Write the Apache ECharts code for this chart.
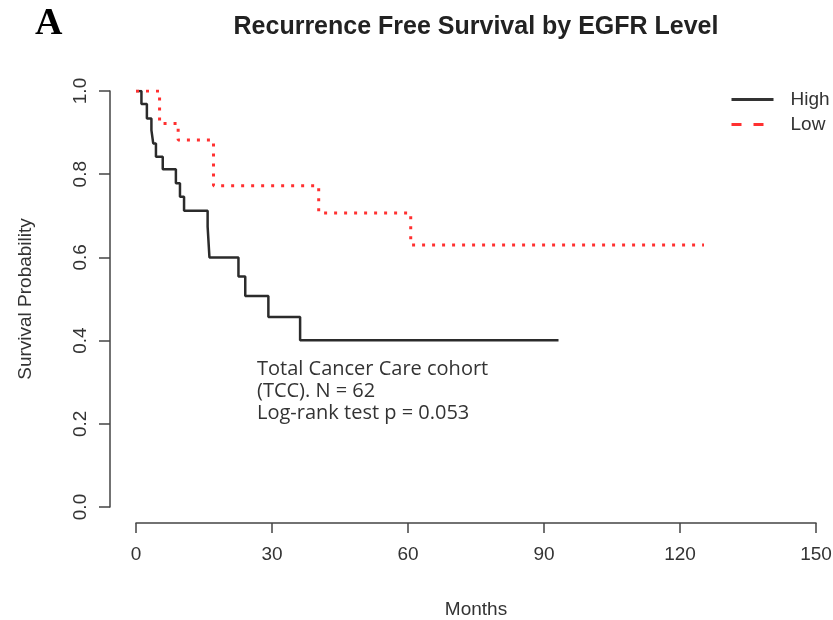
<!DOCTYPE html>
<html>
<head>
<meta charset="utf-8">
<script src="https://cdn.jsdelivr.net/npm/echarts@6/dist/echarts.min.js"></script>
<style>html,body{margin:0;padding:0;background:#fff;}#chart{width:833px;height:620px;}</style>
</head>
<body>
<div id="chart"></div>
<script>
// Kaplan-Meier step data (months, survival probability after event)
var highMonths = [0, 1.2, 2.4, 3.4, 3.8, 4.4, 5.9, 8.8, 9.7, 10.6, 15.8, 16.2, 22.6, 24.1, 29.2, 36.2, 93.2];
var highSurv   = [1.0, 0.969, 0.934, 0.906, 0.874, 0.842, 0.812, 0.778, 0.746, 0.712, 0.674, 0.600, 0.554, 0.507, 0.457, 0.401, 0.401];
var lowMonths  = [0, 5.2, 9.3, 17.1, 40.3, 60.6, 125.3];
var lowSurv    = [1.0, 0.922, 0.882, 0.772, 0.707, 0.630, 0.630];
var seriesNames = ['High', 'Low'];
var xTicks = [0, 30, 60, 90, 120, 150];
var yTicks = [0.0, 0.2, 0.4, 0.6, 0.8, 1.0];
var titleText = 'Recurrence Free Survival by EGFR Level';
var panelLabel = 'A';
var noteLines = ['Total Cancer Care cohort', '(TCC). N = 62', 'Log-rank test p = 0.053'];

function pairs(xs, ys) { return xs.map(function (x, i) { return [x, ys[i]]; }); }

var axisColor = '#444';
var textColor = '#333';
var hiddenSymbol = {color: 'rgba(0,0,0,0)', borderColor: 'rgba(0,0,0,0)', borderWidth: 0, opacity: 0};
var chart = echarts.init(document.getElementById('chart'), null, {renderer: 'canvas'});
chart.setOption({
  animation: false,
  backgroundColor: '#fff',
  title: {
    text: titleText,
    left: 471, top: 10, textAlign: 'center',
    textStyle: {fontFamily: 'Liberation Sans', fontWeight: 'bold', fontSize: 25, color: '#222'}
  },
  legend: {
    orient: 'vertical', left: 730, top: 90, padding: 0, itemGap: 6, itemWidth: 42, itemHeight: 18,
    textStyle: {fontFamily: 'Liberation Sans', fontSize: 19, color: textColor, padding: [0, 0, 0, 12]},
    data: [
      {name: 'High', itemStyle: hiddenSymbol, lineStyle: {color: '#333', width: 3, type: 'solid'}},
      {name: 'Low', itemStyle: hiddenSymbol, lineStyle: {color: '#ff3030', width: 3, type: [10, 12]}}
    ]
  },
  grid: {left: 136, right: 17, top: 91, bottom: 113, containLabel: false, outerBoundsMode: 'none'},
  xAxis: {
    type: 'value', min: xTicks[0], max: xTicks[xTicks.length - 1], interval: 30,
    offset: 16,
    name: 'Months', nameLocation: 'middle', nameGap: 77,
    nameTextStyle: {fontFamily: 'Liberation Sans', fontSize: 19, color: textColor},
    axisLine: {show: true, onZero: false, lineStyle: {color: axisColor, width: 1.5}},
    axisTick: {show: true, length: 10, lineStyle: {color: axisColor, width: 1.5}},
    axisLabel: {fontFamily: 'Liberation Sans', fontSize: 19, color: textColor, margin: 22},
    splitLine: {show: false}
  },
  yAxis: {
    type: 'value', min: yTicks[0], max: yTicks[yTicks.length - 1], interval: 0.2,
    offset: 26,
    name: 'Survival Probability', nameLocation: 'middle', nameGap: 75, nameRotate: 90,
    nameTextStyle: {fontFamily: 'Liberation Sans', fontSize: 19, color: textColor},
    axisLine: {show: true, onZero: false, lineStyle: {color: axisColor, width: 1.5}},
    axisTick: {show: true, length: 11, lineStyle: {color: axisColor, width: 1.5}},
    axisLabel: {fontFamily: 'Liberation Sans', fontSize: 19, color: textColor, rotate: 90, margin: 20,
      formatter: function (v) { return v.toFixed(1); }},
    splitLine: {show: false}
  },
  graphic: [
    {type: 'text', left: 35, top: 5, style: {text: panelLabel, fontFamily: 'Liberation Serif', fontWeight: 'bold', fontSize: 38, fill: '#000'}},
    {type: 'text', left: 257, top: 358, style: {text: noteLines.join('\n'), fontFamily: 'Open Sans', fontSize: 20, lineHeight: 22, fill: '#333'}}
  ],
  series: [
    {name: seriesNames[0], type: 'line', step: 'end', symbol: 'none', data: pairs(highMonths, highSurv),
      lineStyle: {color: '#2b2b2b', width: 2.5}, itemStyle: {color: '#2b2b2b'}, z: 2},
    {name: seriesNames[1], type: 'line', step: 'end', symbol: 'none', data: pairs(lowMonths, lowSurv),
      lineStyle: {color: '#ff3030', width: 3, type: [3, 7], cap: 'butt'}, itemStyle: {color: '#ff3030'}, z: 3}
  ]
});
</script>
</body>
</html>
